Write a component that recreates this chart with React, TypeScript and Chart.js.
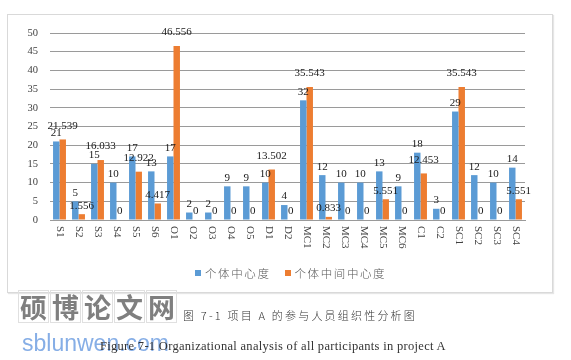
import React, { useEffect, useRef } from "react";
import { Chart, registerables } from "chart.js";

Chart.register(...registerables);

const categories = ["S1","S2","S3","S4","S5","S6","O1","O2","O3","O4","O5","D1","D2","MC1","MC2","MC3","MC4","MC5","MC6","C1","C2","SC1","SC2","SC3","SC4"];
const degreeValues = [21,5,15,10,17,13,17,2,2,9,9,10,4,32,12,10,10,13,9,18,3,29,12,10,14];
const betweennessValues = [21.539,1.556,16.033,0,12.922,4.417,46.556,0,0,0,0,13.502,0,35.543,0.833,0,0,5.551,0,12.453,0,35.543,0,0,5.551];
const seriesNames = ["个体中心度", "个体中间中心度"];
const seriesColors = ["#5b9bd5", "#ed7d31"];
const yMax = 50;
const yStep = 5;

const labelPlugin = {
  id: "customLabels",
  afterDatasetsDraw(chart: any) {
    const ctx = chart.ctx;
    ctx.save();
    ctx.font = '11px "Liberation Serif"';
    ctx.fillStyle = "#1a1a1a";
    ctx.textAlign = "center";
    ctx.textBaseline = "bottom";
    chart.data.datasets.forEach((ds: any, di: number) => {
      const meta = chart.getDatasetMeta(di);
      meta.data.forEach((el: any, i: number) => {
        const v = ds.data[i];
        ctx.fillText(String(v), el.x, el.y - (di === 1 && v > 10 ? 8 : 3));
      });
    });
    ctx.restore();
  },
  afterDraw(chart: any) {
    const ctx = chart.ctx;
    const xs = chart.scales.x;
    const bottom = chart.chartArea.bottom;
    ctx.save();
    ctx.font = '11px "Liberation Serif"';
    ctx.fillStyle = "#404040";
    ctx.textAlign = "left";
    ctx.textBaseline = "middle";
    chart.data.labels.forEach((lab: string, i: number) => {
      const x = xs.getPixelForValue(i);
      ctx.save();
      ctx.translate(x, bottom + 6);
      ctx.rotate(Math.PI / 2);
      ctx.fillText(lab, 0, 0);
      ctx.restore();
    });
    ctx.restore();
  },
};

export default function App() {
  const ref = useRef<HTMLCanvasElement | null>(null);
  useEffect(() => {
    if (!ref.current) return;
    const chart = new Chart(ref.current, {
      type: "bar",
      data: {
        labels: categories,
        datasets: [
          { label: seriesNames[0], data: degreeValues, backgroundColor: seriesColors[0], categoryPercentage: 0.68, barPercentage: 1 },
          { label: seriesNames[1], data: betweennessValues, backgroundColor: seriesColors[1], categoryPercentage: 0.68, barPercentage: 1 },
        ],
      },
      options: {
        responsive: false,
        animation: false,
        layout: { padding: { top: 19, right: 29, left: 0, bottom: 0 } },
        plugins: { legend: { display: false }, tooltip: { enabled: false } },
        scales: {
          x: {
            grid: { display: false },
            border: { display: true, color: "#9a9a9a" },
            ticks: { display: false },
            afterFit: (s: any) => { s.height = 73; },
          },
          y: {
            min: 0,
            max: yMax,
            ticks: { stepSize: yStep, padding: 12, color: "#404040", font: { family: '"Liberation Serif"', size: 10.5 } },
            grid: { color: "#9a9a9a", drawTicks: false },
            border: { display: false },
            afterFit: (s: any) => { s.width = 42; },
          },
        },
      },
      plugins: [labelPlugin],
    });
    return () => chart.destroy();
  }, []);

  const cjk = '"Noto Sans CJK SC", sans-serif';
  return (
    <div style={{ position: "fixed", left: 0, top: 0, width: 571, height: 360, background: "#fff", overflow: "hidden" }}>
      <div style={{ position: "absolute", left: 7, top: 14, width: 546, height: 279, border: "1px solid #d9d9d9", boxShadow: "1px 1px 1px #e6e6e6", boxSizing: "border-box" }} />
      <canvas ref={ref} width={546} height={279} style={{ position: "absolute", left: 8, top: 14, width: 546, height: 279 }} />
      <div style={{ position: "absolute", left: 195, top: 267, height: 12, display: "flex", alignItems: "center", fontFamily: cjk, fontSize: 11.5, fontWeight: 300, color: "#595959", letterSpacing: 1.6, whiteSpace: "nowrap" }}>
        <span style={{ display: "inline-block", width: 6, height: 6, background: seriesColors[0], marginRight: 4 }} />
        <span>{seriesNames[0]}</span>
        <span style={{ display: "inline-block", width: 6, height: 6, background: seriesColors[1], marginLeft: 14, marginRight: 4 }} />
        <span>{seriesNames[1]}</span>
      </div>
      <div style={{ position: "absolute", left: 18, top: 290, display: "flex" }}>
        {["硕", "博", "论", "文", "网"].map((c, i) => (
          <div key={i} style={{ width: 31, height: 33, border: "1px solid #e0e0e0", boxSizing: "border-box", display: "flex", alignItems: "center", justifyContent: "center", fontFamily: cjk, fontWeight: 700, fontSize: 27, color: "#7f7f7f", marginRight: 1 }}>{c}</div>
        ))}
      </div>
      <div style={{ position: "absolute", left: 183, top: 307, fontFamily: cjk, fontSize: 11, fontWeight: 300, color: "#333", letterSpacing: 2.2, whiteSpace: "nowrap" }}>图 7-1 项目 A 的参与人员组织性分析图</div>
      <div style={{ position: "absolute", left: 22, top: 330, fontFamily: '"Liberation Sans", sans-serif', fontSize: 23, color: "#86aee6", whiteSpace: "nowrap" }}>sblunwen.com</div>
      <div style={{ position: "absolute", left: 100, top: 339, fontFamily: '"Liberation Serif", serif', fontSize: 12.5, color: "#333", whiteSpace: "nowrap", letterSpacing: 0.3 }}>Figure 7-1 Organizational analysis of all participants in project A</div>
    </div>
  );
}
